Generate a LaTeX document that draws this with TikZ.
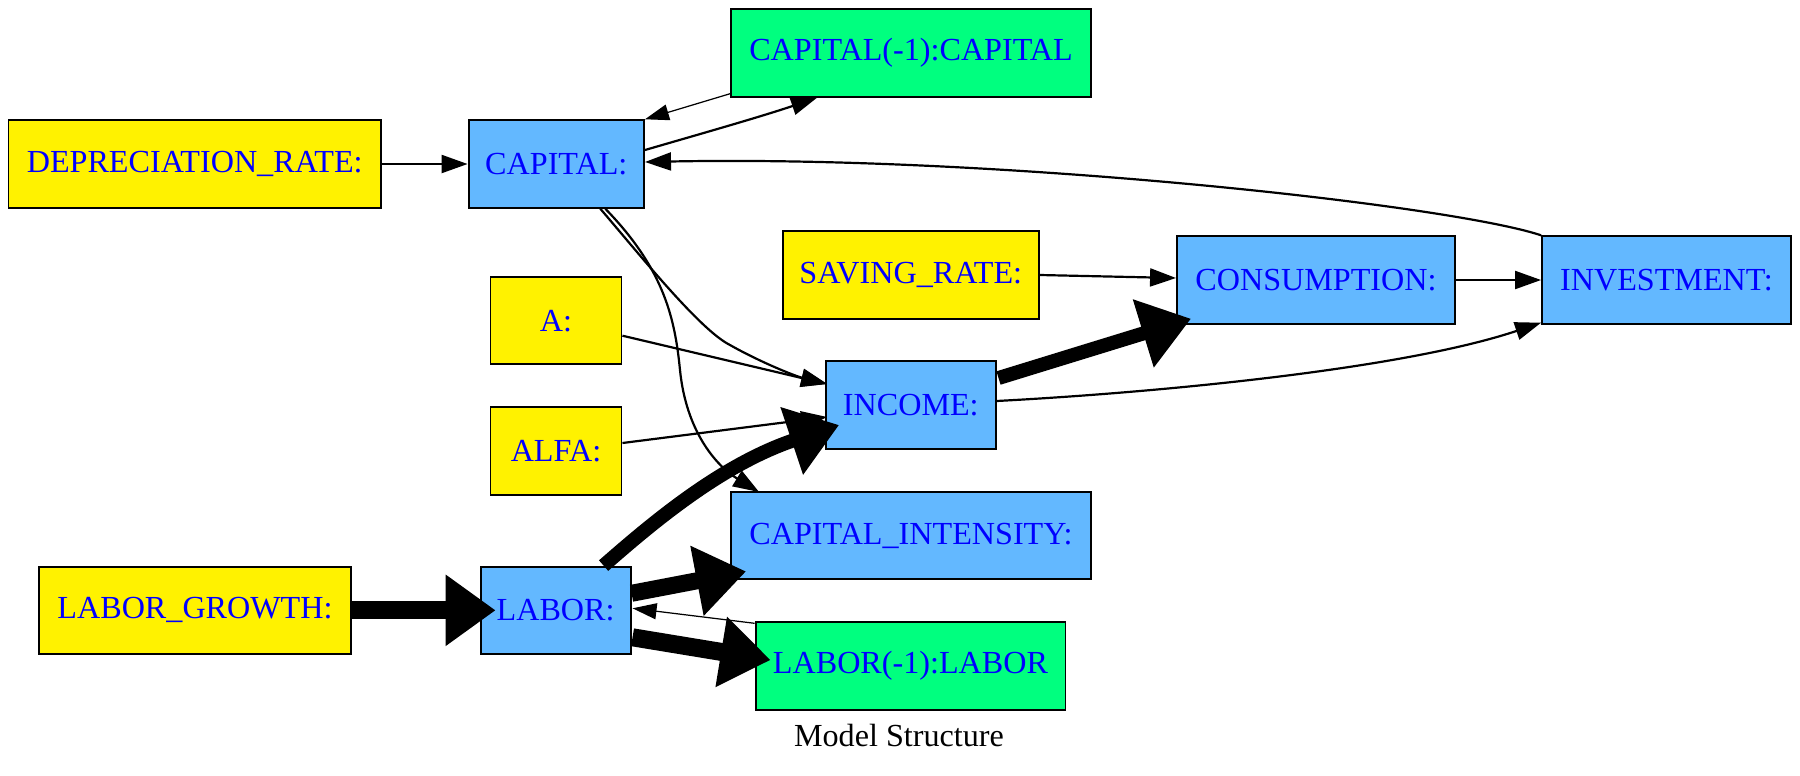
\documentclass[tikz,border=0pt]{standalone}
\usepackage{fontspec}
\setmainfont{Liberation Serif}
\usetikzlibrary{arrows.meta,calc}
\definecolor{skyb}{RGB}{99,184,255}
\definecolor{sprg}{RGB}{0,255,127}

\begin{document}
\begin{tikzpicture}[x=0.02cm, y=-0.02cm,
		box/.style={draw, line width=1.1pt, minimum height=1.75cm, inner sep=0pt, text=blue, font=\fontsize{18.3}{22}\selectfont},
		exo/.style={box, fill=yellow},
		endo/.style={box, fill=skyb},
		lag/.style={box, fill=sprg},
		lnk/.style={line width=1.25pt, -{Triangle[length=0.52cm, width=0.36cm]}},
		faint/.style={line width=0.7pt, -{Triangle[length=0.48cm, width=0.32cm]}},
		fat/.style={line width=#1, -{Triangle[length=1.0cm, width=1.36cm]}}]
		\useasboundingbox (0,0) rectangle (1800,775);
		% variables
		\node[exo, minimum width=7.45cm] (dep) at (194.7,164) {DEPRECIATION\_RATE:};
		\node[endo, minimum width=3.51cm] (cap) at (556.3,164) {CAPITAL:};
		\node[lag, minimum width=7.2cm] (capl) at (911,53) {CAPITAL(-1):CAPITAL};
		\node[exo, minimum width=5.13cm] (sav) at (910.8,275) {SAVING\_RATE:};
		\node[exo, minimum width=2.62cm] (a) at (556,320.7) {A:};
		\node[exo, minimum width=2.62cm] (alfa) at (556,451) {ALFA:};
		\node[endo, minimum width=3.39cm] (inc) at (910.8,405) {INCOME:};
		\node[endo, minimum width=5.56cm] (cons) at (1316,280) {CONSUMPTION:};
		\node[endo, minimum width=4.98cm] (inv) at (1666.5,280) {INVESTMENT:};
		\node[endo, minimum width=7.2cm] (cint) at (911,535.7) {CAPITAL\_INTENSITY:};
		\node[exo, minimum width=6.23cm] (lgr) at (195,610.3) {LABOR\_GROWTH:};
		\node[endo, minimum width=3.0cm] (lab) at (555.6,610.3) {LABOR:};
		\node[lag, minimum width=6.2cm] (labl) at (910.5,666) {LABOR(-1):LABOR};
		\node[font=\fontsize{18.3}{22}\selectfont] (ttl) at (899,735) {Model Structure};
		% exogenous inputs
		\draw[lnk] (dep.east) -- (cap.west);
		\draw[lnk] ($(a.east)+(0,15)$) -- ($(inc.west)+(2,-21)$);
		\draw[lnk] ($(alfa.east)+(0,-8)$) -- ($(inc.west)+(2,12)$);
		\draw[lnk] (sav.east) -- ($(cons.west)+(0,-2)$);
		\draw[fat=0.36cm] (lgr.east) -- ($(lab.west)+(16,0)$);
		% capital block
		\draw[lnk] ($(cap.east)+(0,-14)$) .. controls (700,134) and (760,117) .. ($(capl.south west)+(87,0)$);
		\draw[faint] ($(capl.south west)+(0,-4)$) -- (cap.north east);
		\draw[lnk] (inv.north west) .. controls (1450,205) and (1000,155) .. ($(cap.east)+(0,-2)$);
		\draw[lnk] ($(cap.south)+(44,0)$) .. controls (640,255) and (700,330) .. (730,345) .. controls (760,362) and (795,376) .. ($(inc.west)+(2,-21)$);
		\draw[lnk] ($(cap.south)+(49,0)$) .. controls (665,270) and (675,320) .. (680,370) .. controls (686,430) and (715,465) .. ($(cint.north west)+(29,1)$);
		% income and spending
		\draw[fat=0.28cm] ($(inc.east)+(2,-27)$) -- ($(cons.south west)+(15,-6)$);
		\draw[lnk] ($(inc.east)+(0,-4)$) .. controls (1150,393) and (1400,370) .. ($(inv.south west)+(0,-2)$);
		\draw[lnk] (cons.east) -- (inv.west);
		% labour block
		\draw[fat=0.28cm] ($(lab.north)+(48,0)$) .. controls (650,525) and (720,465) .. ($(inc.west)+(14,20)$);
		\draw[fat=0.34cm] ($(lab.east)+(0,-17)$) -- ($(cint.south west)+(16,-9)$);
		\draw[fat=0.36cm] ($(lab.east)+(1,27)$) -- ($(labl.west)+(16,-6)$);
		\draw[faint] ($(labl.north west)+(0,2)$) -- ($(lab.east)+(1,-2)$);
	\end{tikzpicture}
\end{document}
